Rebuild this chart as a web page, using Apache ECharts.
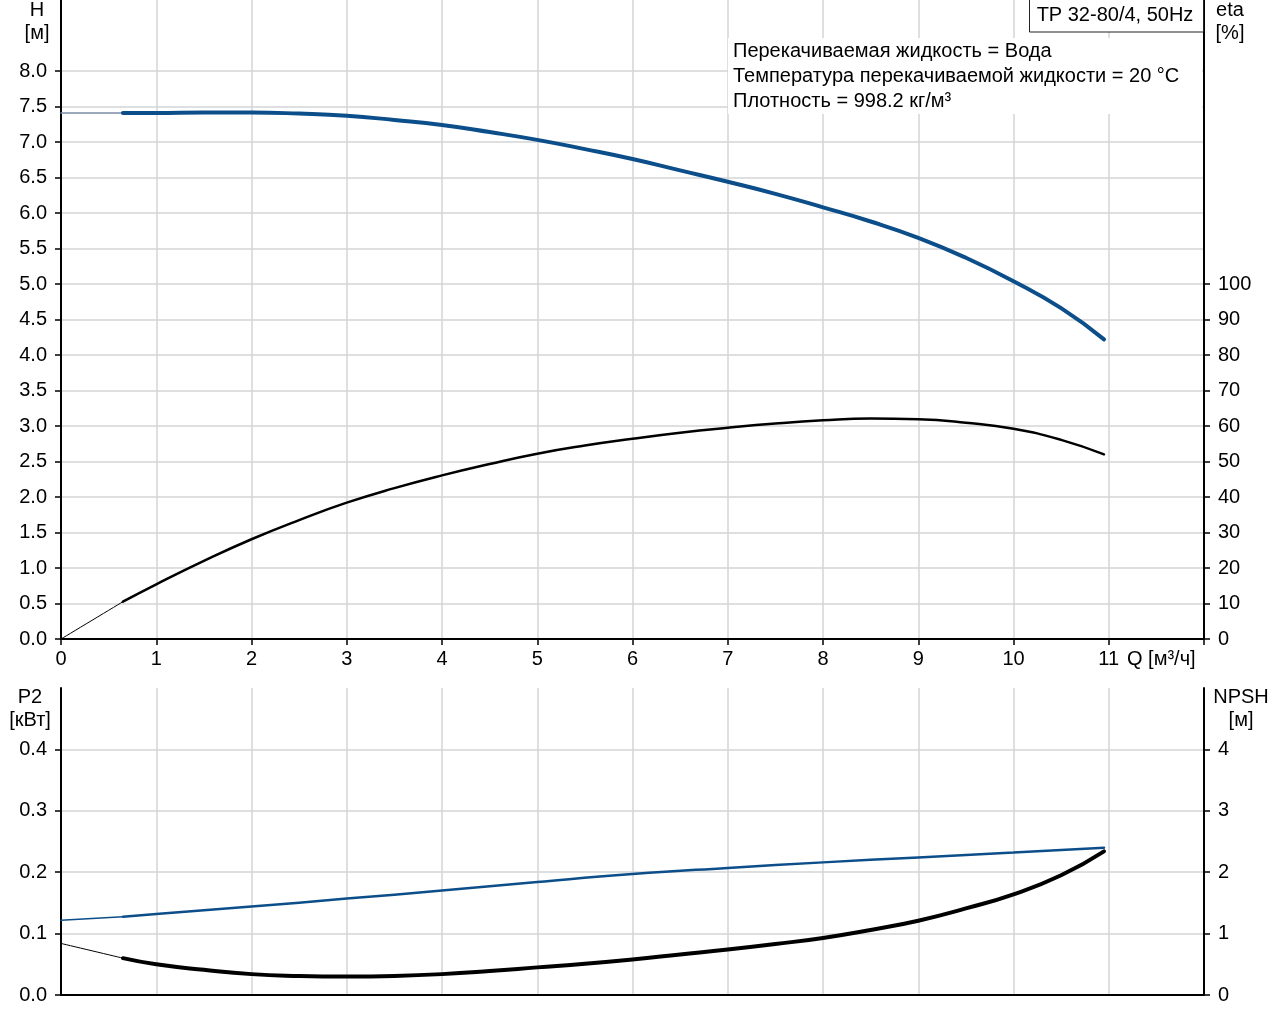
<!DOCTYPE html>
<html>
<head>
<meta charset="utf-8">
<script src="https://cdn.jsdelivr.net/npm/echarts@6/dist/echarts.min.js"></script>
<style>
html,body{margin:0;padding:0;background:#fff;}
#chart{width:1280px;height:1024px;}
</style>
</head>
<body>
<div id="chart"></div>
<script>
// ---- data ----
var qTicks = [0,1,2,3,4,5,6,7,8,9,10,11,12];
var qLabels = [0,1,2,3,4,5,6,7,8,9,10,11];
var hLabels = [0,0.5,1,1.5,2,2.5,3,3.5,4,4.5,5,5.5,6,6.5,7,7.5,8];
var etaLabels = [0,10,20,30,40,50,60,70,80,90,100];
var p2Labels = [0,0.1,0.2,0.3,0.4];
var npshLabels = [0,1,2,3,4];

// Head curve H [m]
var qH = [0.65,1,1.5,2,2.5,3,3.5,4,4.5,5,5.5,6,6.5,7,7.5,8,8.5,9,9.5,10,10.5,10.95];
var hVal = [7.41,7.41,7.415,7.415,7.40,7.37,7.31,7.24,7.14,7.03,6.90,6.76,6.60,6.44,6.27,6.08,5.88,5.65,5.37,5.04,4.66,4.22];
var qHext = [0,0.65];
var hExt = [7.41,7.41];

// Efficiency eta [%]
var qEta = [0.65,1,1.5,2,2.5,3,3.5,4,4.5,5,5.5,6,6.5,7,7.5,8,8.5,9,9.5,10,10.5,10.95];
var etaVal = [10.5,15.4,22,28.1,33.5,38.4,42.5,46.1,49.3,52.2,54.5,56.4,58.1,59.5,60.7,61.6,62.1,61.9,60.9,59.2,56.1,52.0];
var qEtaExt = [0,0.65];
var etaExt = [0,10.5];

// Power P2 [kW]
var qP2 = [0.65,1,2,3,4,5,6,7,8,9,10,10.95];
var p2Val = [0.1276,0.132,0.144,0.157,0.170,0.184,0.197,0.207,0.216,0.224,0.232,0.240];
var qP2Ext = [0,0.65];
var p2Ext = [0.1216,0.1276];

// NPSH [m]
var qNpsh = [0.65,1,1.5,2,2.5,3,3.5,4,4.5,5,5.5,6,6.5,7,7.5,8,8.5,9,9.5,10,10.5,10.95];
var npshVal = [0.60,0.50,0.41,0.34,0.31,0.30,0.31,0.34,0.39,0.45,0.51,0.58,0.66,0.74,0.83,0.93,1.06,1.21,1.41,1.64,1.95,2.34];
var qNpshExt = [0,0.65];
var npshExt = [0.84,0.60];

var titleText = 'TP 32-80/4, 50Hz';
var infoLines = ['Перекачиваемая жидкость = Вода','Температура перекачиваемой жидкости = 20 °C','Плотность = 998.2 кг/м³'];

// ---- helpers ----
function pairs(xs, ys){ return xs.map(function(x,i){ return [x, ys[i]]; }); }
var FONT = 'Liberation Sans, Arial, sans-serif';
var FS = 20;
var BLUE = '#0c4e8a';
var GRIDC = '#d2d4d6';

function baseAxis(extra){
  var a = {
    type:'value',
    axisLine:{show:true, onZero:false, lineStyle:{color:'#000', width:2}},
    axisTick:{show:true, length:6, lineStyle:{color:'#000', width:1.5}},
    axisLabel:{color:'#000', fontFamily:FONT, fontSize:FS},
    splitLine:{show:true, lineStyle:{color:GRIDC, width:1.5}}
  };
  for (var k in extra){ a[k] = extra[k]; }
  return a;
}
function curve(name, xi, yi, data, color, width, z){
  return {name:name, type:'line', xAxisIndex:xi, yAxisIndex:yi, data:data, smooth:0.5,
    showSymbol:false, symbol:'none', lineStyle:{color:color, width:width, cap:'round', join:'round'}, z:z};
}

var chart = echarts.init(document.getElementById('chart'), null, {renderer:'canvas'});

var option = {
  animation:false,
  backgroundColor:'#fff',
  grid:[
    {left:61, top:0, width:1143, height:639, containLabel:false},
    {left:61, top:688, width:1143, height:307, containLabel:false}
  ],
  xAxis:[
    baseAxis({gridIndex:0, min:0, max:12, interval:1,
      axisTick:{show:true, length:6, customValues:qTicks, lineStyle:{color:'#000', width:1.5}},
      axisLabel:{color:'#000', fontFamily:FONT, fontSize:FS, margin:10, customValues:qLabels}
    }),
    baseAxis({gridIndex:1, min:0, max:12, interval:1,
      axisTick:{show:false}, axisLabel:{show:false}
    })
  ],
  yAxis:[
    baseAxis({gridIndex:0, position:'left', min:0, max:9, interval:0.5,
      axisTick:{show:true, length:6, customValues:hLabels, lineStyle:{color:'#000', width:1.5}},
      axisLabel:{color:'#000', fontFamily:FONT, fontSize:FS, margin:14, customValues:hLabels,
        formatter:function(v){ return v.toFixed(1); }}
    }),
    baseAxis({gridIndex:0, position:'right', min:0, max:180, interval:10,
      splitLine:{show:false},
      axisTick:{show:true, length:6, customValues:etaLabels, lineStyle:{color:'#000', width:1.5}},
      axisLabel:{color:'#000', fontFamily:FONT, fontSize:FS, margin:14, customValues:etaLabels}
    }),
    baseAxis({gridIndex:1, position:'left', min:0, max:0.5, interval:0.1,
      axisTick:{show:true, length:6, customValues:p2Labels, lineStyle:{color:'#000', width:1.5}},
      axisLabel:{color:'#000', fontFamily:FONT, fontSize:FS, margin:14, customValues:p2Labels,
        formatter:function(v){ return v.toFixed(1); }}
    }),
    baseAxis({gridIndex:1, position:'right', min:0, max:5, interval:1,
      splitLine:{show:false},
      axisTick:{show:true, length:6, customValues:npshLabels, lineStyle:{color:'#000', width:1.5}},
      axisLabel:{color:'#000', fontFamily:FONT, fontSize:FS, margin:14, customValues:npshLabels}
    })
  ],
  series:[
    curve('H ext', 0, 0, pairs(qHext,hExt), '#7d8ea8', 1.5, 3),
    curve('H', 0, 0, pairs(qH,hVal), BLUE, 4, 4),
    curve('eta ext', 0, 1, pairs(qEtaExt,etaExt), '#000', 1, 3),
    curve('eta', 0, 1, pairs(qEta,etaVal), '#000', 2.5, 4),
    curve('P2 ext', 1, 2, pairs(qP2Ext,p2Ext), BLUE, 1.5, 3),
    curve('P2', 1, 2, pairs(qP2,p2Val), BLUE, 2.5, 4),
    curve('NPSH ext', 1, 3, pairs(qNpshExt,npshExt), '#000', 1, 3),
    curve('NPSH', 1, 3, pairs(qNpsh,npshVal), '#000', 4, 4)
  ],
  graphic:[
    {type:'rect', z:1, shape:{x:728, y:38, width:474, height:76}, style:{fill:'#fff'}},
    {type:'rect', z:5, shape:{x:1029.5, y:-1, width:174, height:33}, style:{fill:'#fff', stroke:'#222', lineWidth:1}},
    {type:'text', z:6, x:1115, y:15, style:{text:titleText, font:FS+'px '+FONT, fill:'#000', textAlign:'center', textVerticalAlign:'middle'}},
    {type:'text', z:6, x:733, y:51, style:{text:infoLines[0], font:FS+'px '+FONT, fill:'#000', textAlign:'left', textVerticalAlign:'middle'}},
    {type:'text', z:6, x:733, y:76, style:{text:infoLines[1], font:FS+'px '+FONT, fill:'#000', textAlign:'left', textVerticalAlign:'middle'}},
    {type:'text', z:6, x:733, y:101, style:{text:infoLines[2], font:FS+'px '+FONT, fill:'#000', textAlign:'left', textVerticalAlign:'middle'}},
    {type:'text', z:6, x:37, y:10, style:{text:'H', font:FS+'px '+FONT, fill:'#000', textAlign:'center', textVerticalAlign:'middle'}},
    {type:'text', z:6, x:37, y:33, style:{text:'[м]', font:FS+'px '+FONT, fill:'#000', textAlign:'center', textVerticalAlign:'middle'}},
    {type:'text', z:6, x:1230, y:10, style:{text:'eta', font:FS+'px '+FONT, fill:'#000', textAlign:'center', textVerticalAlign:'middle'}},
    {type:'text', z:6, x:1230, y:33, style:{text:'[%]', font:FS+'px '+FONT, fill:'#000', textAlign:'center', textVerticalAlign:'middle'}},
    {type:'text', z:6, x:1127, y:659, style:{text:'Q [м³/ч]', font:FS+'px '+FONT, fill:'#000', textAlign:'left', textVerticalAlign:'middle'}},
    {type:'text', z:6, x:30, y:697, style:{text:'P2', font:FS+'px '+FONT, fill:'#000', textAlign:'center', textVerticalAlign:'middle'}},
    {type:'text', z:6, x:30, y:720, style:{text:'[кВт]', font:FS+'px '+FONT, fill:'#000', textAlign:'center', textVerticalAlign:'middle'}},
    {type:'text', z:6, x:1241, y:697, style:{text:'NPSH', font:FS+'px '+FONT, fill:'#000', textAlign:'center', textVerticalAlign:'middle'}},
    {type:'text', z:6, x:1241, y:720, style:{text:'[м]', font:FS+'px '+FONT, fill:'#000', textAlign:'center', textVerticalAlign:'middle'}}
  ]
};
chart.setOption(option);
</script>
</body>
</html>
